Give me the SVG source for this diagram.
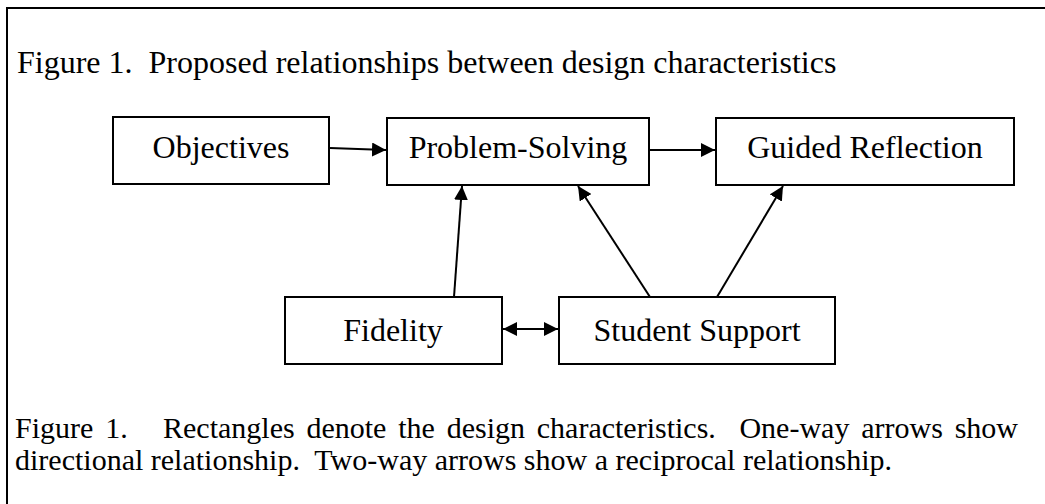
<svg xmlns="http://www.w3.org/2000/svg" width="1045" height="504" viewBox="0 0 1045 504">
<defs>
<style>
text{font-family:"Liberation Serif","Times New Roman",serif;font-size:32px;fill:#000}
.cap{font-size:30px}
.box{fill:#fff;stroke:#000;stroke-width:2}
.lbl{text-anchor:middle}
.edge{stroke:#000;stroke-width:2;fill:none}
</style>
<marker id="ah" viewBox="0 0 14 14" refX="14" refY="7" markerWidth="14" markerHeight="14" markerUnits="userSpaceOnUse" orient="auto-start-reverse">
<path d="M0,0 L14,7 L0,14 Z" fill="#000"/>
</marker>
</defs>
<rect x="0" y="0" width="1045" height="504" fill="#fff"/>
<path d="M7,504 V8 H1045" fill="none" stroke="#000" stroke-width="2"/>
<text x="17" y="73" xml:space="preserve">Figure 1.  Proposed relationships between design characteristics</text>
<g id="connectors">
<line class="edge" x1="330" y1="148" x2="386" y2="150" marker-end="url(#ah)"/>
<line class="edge" x1="650" y1="150" x2="715" y2="150" marker-end="url(#ah)"/>
<line class="edge" x1="454" y1="297" x2="462" y2="186" marker-end="url(#ah)"/>
<line class="edge" x1="650" y1="297" x2="578" y2="186" marker-end="url(#ah)"/>
<line class="edge" x1="717" y1="297" x2="783" y2="186" marker-end="url(#ah)"/>
<line class="edge" x1="503" y1="329" x2="558" y2="329" marker-start="url(#ah)" marker-end="url(#ah)"/>
</g>
<g id="objectives"><rect class="box" x="113" y="117" width="216" height="67"/><text class="lbl" x="221" y="158">Objectives</text></g>
<g id="problem-solving"><rect class="box" x="387" y="118" width="262" height="67"/><text class="lbl" x="518" y="158">Problem-Solving</text></g>
<g id="guided-reflection"><rect class="box" x="716" y="118" width="298" height="67"/><text class="lbl" x="865" y="158">Guided Reflection</text></g>
<g id="fidelity"><rect class="box" x="285" y="297" width="217" height="67"/><text class="lbl" x="393" y="341">Fidelity</text></g>
<g id="student-support"><rect class="box" x="559" y="297" width="276" height="67"/><text class="lbl" x="697" y="341">Student Support</text></g>
<text class="cap" x="15" y="438" xml:space="preserve" word-spacing="4.3">Figure 1.   Rectangles denote the design characteristics.  One-way arrows show</text>
<text class="cap" x="15" y="470" xml:space="preserve">directional relationship.  Two-way arrows show a reciprocal relationship.</text>
</svg>
